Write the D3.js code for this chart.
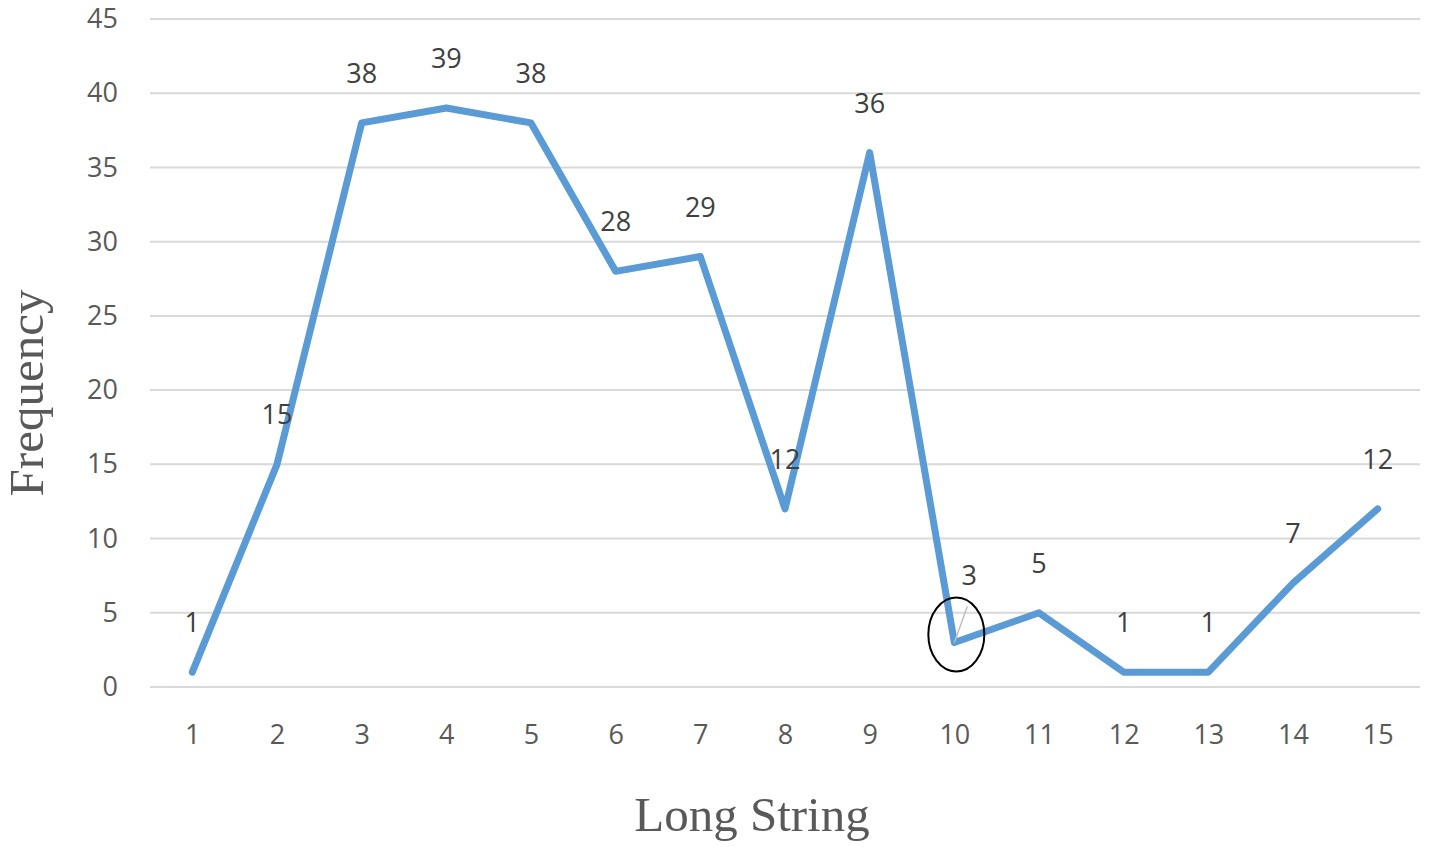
<!DOCTYPE html>
<html><head><meta charset="utf-8">
<script src="https://cdn.jsdelivr.net/npm/d3@7"></script>
<style>body{margin:0;background:#fff}</style>
</head><body>
<svg id="c" width="1430" height="847"></svg>
<script>
const categories = [1,2,3,4,5,6,7,8,9,10,11,12,13,14,15];
const values = [1,15,38,39,38,28,29,12,36,3,5,1,1,7,12];
const yTicks = [0,5,10,15,20,25,30,35,40,45];
const xTitle = "Long String";
const yTitle = "Frequency";
const circledCategory = 10;

(function(){
const svg = d3.select("#c");
const pLeft = 150, pRight = 1420, pTop = 19, pBottom = 687;
const x = d3.scalePoint().domain(categories).range([pLeft, pRight]).padding(0.5);
const y = d3.scaleLinear().domain([0,45]).range([pBottom, pTop]);

// gridlines
svg.append("g").selectAll("line").data(yTicks).join("line")
  .attr("x1", pLeft).attr("x2", pRight)
  .attr("y1", d=>y(d)).attr("y2", d=>y(d))
  .attr("stroke", "#d9d9d9").attr("stroke-width", 2);

// y axis labels
const yAxis = svg.append("g").attr("transform", `translate(${pLeft-32},0)`)
  .call(d3.axisLeft(y).tickValues(yTicks).tickSize(0).tickPadding(0));
yAxis.select(".domain").remove();
yAxis.selectAll("text").attr("font-family","Open Sans, sans-serif").attr("font-size", 27).attr("fill","#595959");

// x axis labels
const xAxis = svg.append("g").attr("transform", `translate(0,${pBottom+38})`)
  .call(d3.axisBottom(x).tickSize(0).tickPadding(0));
xAxis.select(".domain").remove();
xAxis.selectAll("text").attr("font-family","Open Sans, sans-serif").attr("font-size", 27).attr("fill","#595959");

// line
const line = d3.line().x((d,i)=>x(categories[i])).y(d=>y(d));
svg.append("path").datum(values).attr("d", line)
  .attr("fill","none").attr("stroke","#5b9bd5").attr("stroke-width",7)
  .attr("stroke-linejoin","round").attr("stroke-linecap","round");

// leader line for the circled point
const ci = categories.indexOf(circledCategory);
svg.append("line")
  .attr("x1", x(circledCategory)).attr("y1", y(values[ci]))
  .attr("x2", x(circledCategory)+13).attr("y2", y(values[ci])-36)
  .attr("stroke","#bfbfbf").attr("stroke-width",1.5);

// data labels
svg.append("g").selectAll("text").data(values).join("text")
  .attr("x",(d,i)=>x(categories[i]) + (categories[i]===circledCategory ? 15 : 0))
  .attr("y",(d,i)=>y(d) - (categories[i]===circledCategory ? 57 : 40))
  .attr("text-anchor","middle")
  .attr("font-family","Open Sans, sans-serif").attr("font-size",27).attr("fill","#404040")
  .text(d=>d);

// ellipse around circled point
svg.append("ellipse")
  .attr("cx", x(circledCategory)+2).attr("cy", y(values[ci])-8)
  .attr("rx", 28).attr("ry", 37)
  .attr("fill","none").attr("stroke","#000").attr("stroke-width",2);

// axis titles
svg.append("text").attr("x", 752).attr("y", 831)
  .attr("text-anchor","middle").attr("font-family","Liberation Serif, serif")
  .attr("font-size",49).attr("fill","#595959").text(xTitle);
svg.append("text").attr("transform", `translate(43,${393}) rotate(-90)`)
  .attr("text-anchor","middle").attr("font-family","Liberation Serif, serif")
  .attr("font-size",49).attr("fill","#595959").text(yTitle);
})();
</script>
</body></html>
